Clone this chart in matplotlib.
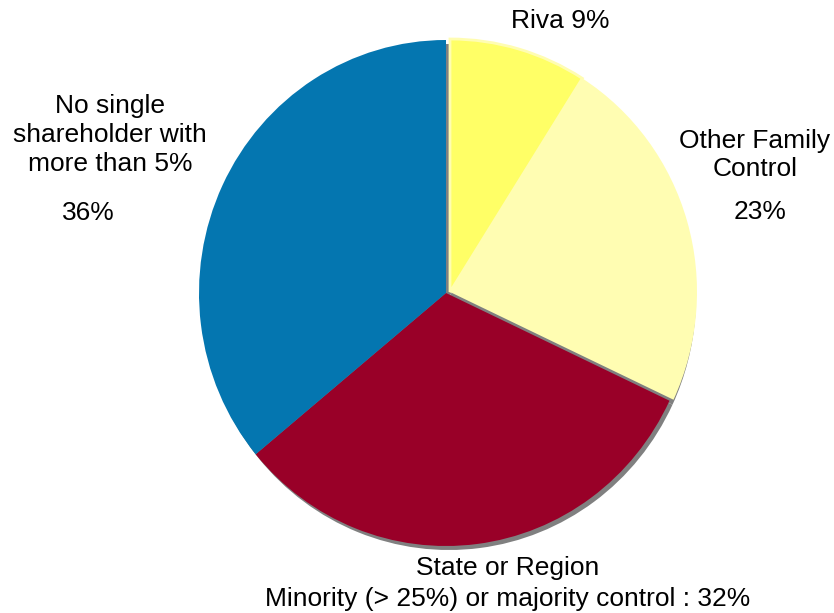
import matplotlib.pyplot as plt

plt.rcParams['font.family'] = ['Liberation Sans', 'DejaVu Sans']

# data
labels = ['Riva', 'Other Family Control', 'State or Region', 'No single shareholder']
shares = [9, 23, 32, 36]
colors = ['#FFFF66', '#FFFDB2', '#990028', '#0476B0']

W, H = 834, 613
fig = plt.figure(figsize=(W / 100, H / 100), dpi=100)

# pie box in pixels (left, top, width, height) - slightly taller than wide
px, py, pw, ph = 199, 40, 494, 506
pax = fig.add_axes([px / W, 1 - (py + ph) / H, pw / W, ph / H])
sx, sy = 2 / pw, 2 / ph  # one pixel in data units

# shadow
pax.pie(shares, colors=['#808080'] * 4, startangle=90, counterclock=False,
        center=(3 * sx, -4 * sy), radius=1, frame=True,
        wedgeprops=dict(linewidth=0, zorder=1))

wedges, _ = pax.pie(shares, colors=colors, startangle=90, counterclock=False,
                    center=(0, 0), radius=1, frame=True,
                    wedgeprops=dict(linewidth=0, zorder=2))
# the two family wedges are pulled out a little
for w in wedges[:2]:
    w.set_center((4 * sx, 1 * sy))
wedges[0].set_edgecolor('#FFFDB2')
wedges[0].set_linewidth(2)
pax.set_xlim(-1, 1)
pax.set_ylim(-1, 1)
pax.set_aspect('auto')
pax.axis('off')

# text layer in pixel coordinates
ax = fig.add_axes([0, 0, 1, 1])
ax.set_xlim(0, W)
ax.set_ylim(H, 0)
ax.axis('off')

fs = 19
ls = 1.25
ax.text(560, 21, 'Riva 9%', ha='center', va='center', fontsize=fs)
ax.text(755, 155, 'Other Family\nControl', ha='center', va='center',
        fontsize=fs, linespacing=ls)
ax.text(760, 212, '23%', ha='center', va='center', fontsize=fs)
ax.text(110, 135, 'No single\nshareholder with\nmore than 5%', ha='center',
        va='center', fontsize=fs, linespacing=ls)
ax.text(88, 213, '36%', ha='center', va='center', fontsize=fs)
ax.text(508, 568, 'State or Region', ha='center', va='center', fontsize=fs)
ax.text(508, 599, 'Minority (> 25%) or majority control : 32%', ha='center',
        va='center', fontsize=fs)

fig.savefig('out.png', dpi=100)
